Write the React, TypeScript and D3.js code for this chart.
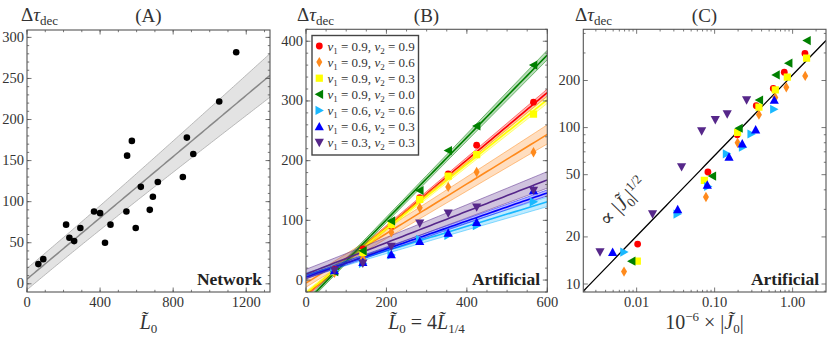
import React from "react";
import * as d3 from "d3";

// (A) network: L0 and decoherence time
const netL0 = [62, 89, 214, 232, 258, 292, 367, 400, 427, 457, 544, 548, 574, 595, 623, 672, 689, 716, 853, 875, 910, 1052, 1145];
const netTau = [24, 30, 72, 56, 52, 68, 88, 86, 50, 72, 88, 156, 174, 68, 118, 90, 106, 124, 130, 178, 158, 222, 282];
const netFit = { a: 5.7, b: 0.1865, sa: 13, sb: 0.0174 };

// (B) artificial: same L0 grid for every series
const artL0 = [70.7, 141.4, 212.1, 282.8, 353.6, 424.3, 565.7];
const tauRed = [18, 52, 90, 138, 178, 226, 298];
const tauOrange = [12, 36, 80, 121, 156, 181, 214];
const tauYellow = [14, 46, 93, 135, 174, 210, 278];
const tauGreen = [14, 49, 99, 150, 217, 258, 360];
const tauLightBlue = [16, 28, 42, 68, 75, 91, 131];
const tauBlue = [16, 30, 43, 65, 79, 97, 150];
const tauPurple = [16, 28, 56, 95, 112, 122, 150];

const fitRed = { a: -25, b: 0.565, sa: 3, sb: 0.0087 };
const fitOrange = { a: -5, b: 0.415, sa: 7, sb: 0.024 };
const fitYellow = { a: -22, b: 0.54, sa: 3, sb: 0.0087 };
const fitGreen = { a: -37, b: 0.69, sa: 4, sb: 0.0115 };
const fitLightBlue = { a: 8, b: 0.205, sa: 4, sb: 0.0115 };
const fitBlue = { a: 5, b: 0.235, sa: 3, sb: 0.0067 };
const fitPurple = { a: 10, b: 0.263, sa: 8, sb: 0.019 };

// (C) 10^-6 |J0| per series
const jRed = [0.0103, 0.082, 0.195, 0.342, 0.565, 0.782, 1.44];
const jOrange = [0.00689, 0.0774, 0.197, 0.37, 0.6, 0.83, 1.45];
const jYellow = [0.0102, 0.0738, 0.197, 0.37, 0.6, 0.855, 1.51];
const jGreen = [0.00863, 0.0934, 0.205, 0.374, 0.611, 0.889, 1.527];
const jLightBlue = [0.00689, 0.0332, 0.082, 0.1425, 0.229, 0.295, 0.576];
const jBlue = [0.00492, 0.0336, 0.0805, 0.153, 0.226, 0.336, 0.582];
const jPurple = [0.00339, 0.016, 0.0377, 0.0682, 0.102, 0.145, 0.257];
const powerFit = { prefactor: 217, exponent: 0.515 };

const v1Labels = ["0.9", "0.9", "0.9", "0.9", "0.6", "0.6", "0.3"];
const v2Labels = ["0.9", "0.6", "0.3", "0.0", "0.6", "0.3", "0.3"];
const colors = ["#ff0000", "#ff8a1c", "#ffff00", "#008000", "#1ab8ff", "#0000ff", "#56278a"];
const shapes = ["circle", "diamond", "square", "left", "right", "up", "down"];

const taus = [tauRed, tauOrange, tauYellow, tauGreen, tauLightBlue, tauBlue, tauPurple];
const fits = [fitRed, fitOrange, fitYellow, fitGreen, fitLightBlue, fitBlue, fitPurple];
const js = [jRed, jOrange, jYellow, jGreen, jLightBlue, jBlue, jPurple];

const FONT = "Liberation Serif, Times New Roman, DejaVu Serif, serif";
const FRAME = "#555";
const TXT = "#333";

function Marker({ shape, x, y, color }: any) {
  if (shape === "circle") return <circle cx={x} cy={y} r={3.4} fill={color} />;
  const paths: any = {
    diamond: "M0,-5.2L3,0L0,5.2L-3,0Z",
    square: "M-3.6,-3.6H3.6V3.6H-3.6Z",
    left: "M-4.6,0L3.8,-4.6L3.8,4.6Z",
    right: "M4.6,0L-3.8,-4.6L-3.8,4.6Z",
    up: "M0,-4.6L4.6,3.8L-4.6,3.8Z",
    down: "M0,4.6L4.6,-3.8L-4.6,-3.8Z",
  };
  return <path d={paths[shape]} transform={`translate(${x},${y})`} fill={color} />;
}

function Frame({ x, y, xMajor, xMinor, xFmt, yMajor, yMinor, yFmt }: any) {
  const [x0, x1] = x.range();
  const [y0, y1] = y.range();
  const out: any[] = [];
  const tk = (v: number, len: number, key: string) => {
    const p = x(v);
    out.push(<line key={key + "b"} x1={p} x2={p} y1={y0} y2={y0 - len} stroke={FRAME} strokeWidth={0.8} />);
    out.push(<line key={key + "t"} x1={p} x2={p} y1={y1} y2={y1 + len} stroke={FRAME} strokeWidth={0.8} />);
  };
  const tky = (v: number, len: number, key: string) => {
    const p = y(v);
    out.push(<line key={key + "l"} x1={x0} x2={x0 + len} y1={p} y2={p} stroke={FRAME} strokeWidth={0.8} />);
    out.push(<line key={key + "r"} x1={x1} x2={x1 - len} y1={p} y2={p} stroke={FRAME} strokeWidth={0.8} />);
  };
  xMinor.forEach((v: number, i: number) => tk(v, 2.2, "xm" + i));
  xMajor.forEach((v: number, i: number) => tk(v, 4.5, "xM" + i));
  yMinor.forEach((v: number, i: number) => tky(v, 2.2, "ym" + i));
  yMajor.forEach((v: number, i: number) => tky(v, 4.5, "yM" + i));
  return (
    <g>
      <rect x={x0} y={y1} width={x1 - x0} height={y0 - y1} fill="none" stroke={FRAME} strokeWidth={1.1} />
      {out}
      {xMajor.map((v: number, i: number) => (
        <text key={"xl" + i} x={x(v)} y={y0 + 15} textAnchor="middle" fontSize={14.5} fontFamily={FONT} fill={TXT}>{xFmt(v)}</text>
      ))}
      {yMajor.map((v: number, i: number) => (
        <text key={"yl" + i} x={x0 - 3} y={y(v) + 4.5} textAnchor="end" fontSize={14.5} fontFamily={FONT} fill={TXT}>{yFmt(v)}</text>
      ))}
    </g>
  );
}

function TauLabel({ x, y }: any) {
  return (
    <text x={x} y={y} fontSize={19} fontFamily={FONT} fill={TXT}>
      <tspan>Δ</tspan><tspan fontStyle="italic">τ</tspan>
      <tspan fontSize={13} dy={4}>dec</tspan>
    </text>
  );
}

function band(fit: any, xs: number[], x: any, y: any) {
  const hw = (v: number) => Math.sqrt(fit.sa * fit.sa + (fit.sb * v) ** 2);
  const area = d3.area<number>().x((v) => x(v)).y0((v) => y(fit.a + fit.b * v - hw(v))).y1((v) => y(fit.a + fit.b * v + hw(v)));
  const up = d3.line<number>().x((v) => x(v)).y((v) => y(fit.a + fit.b * v + hw(v)));
  const lo = d3.line<number>().x((v) => x(v)).y((v) => y(fit.a + fit.b * v - hw(v)));
  const mid = d3.line<number>().x((v) => x(v)).y((v) => y(fit.a + fit.b * v));
  return { area: area(xs)!, up: up(xs)!, lo: lo(xs)!, mid: mid(xs)! };
}

export default function App() {
  // panel A
  const xA = d3.scaleLinear().domain([0, 1330]).range([27, 270]);
  const yA = d3.scaleLinear().domain([-10, 309]).range([292, 30]);
  const xsA = d3.range(0, 1331, 10);
  const bA = band(netFit, xsA, xA, yA);

  // panel B
  const xB = d3.scaleLinear().domain([0, 600]).range([306, 547.3]);
  const yB = d3.scaleLinear().domain([-20, 420]).range([292, 29.3]);
  const xsB = d3.range(0, 601, 10);

  // panel C
  const xC = d3.scaleLog().domain([0.00207, 2.68]).range([583.3, 826]);
  const yC = d3.scaleLog().domain([8.89, 425]).range([292, 29.3]);
  const xsC = d3.range(0, 51).map((i) => 0.00207 * Math.pow(2.68 / 0.00207, i / 50));
  const powLine = d3.line<number>().x((v) => xC(v)).y((v) => yC(powerFit.prefactor * Math.pow(v, powerFit.exponent)))(xsC)!;
  const xCMajor = [0.01, 0.1, 1];
  const yCMajor = [10, 20, 50, 100, 200];
  const xCMinor = xC.ticks().filter((v) => !xCMajor.some((m) => Math.abs(m - v) < 1e-9));
  const yCMinor = yC.ticks().filter((v) => !yCMajor.includes(v));

  const tilde = "\u0303";

  return (
    <svg width={831} height={344} fontFamily={FONT} style={{ position: "absolute", left: 0, top: 0 }}>
      <defs>
        <clipPath id="clipA"><rect x={27} y={30} width={243} height={262} /></clipPath>
        <clipPath id="clipB"><rect x={306} y={29.3} width={241.3} height={262.7} /></clipPath>
        <clipPath id="clipC"><rect x={583.3} y={29.3} width={242.7} height={262.7} /></clipPath>
      </defs>
      <rect width={831} height={344} fill="#fff" />

      {/* (A) */}
      <g clipPath="url(#clipA)">
        <path d={bA.area} fill="#e3e3e3" />
        <path d={bA.up} fill="none" stroke="#aaa" strokeWidth={0.8} />
        <path d={bA.lo} fill="none" stroke="#aaa" strokeWidth={0.8} />
        <path d={bA.mid} fill="none" stroke="#888" strokeWidth={1.5} />
        {netL0.map((v, i) => <circle key={i} cx={xA(v)} cy={yA(netTau[i])} r={3.3} fill="#000" />)}
      </g>
      <Frame x={xA} y={yA} xMajor={[0, 400, 800, 1200]} xMinor={d3.range(0, 1331, 100)} xFmt={(v: number) => v}
        yMajor={d3.range(0, 301, 50)} yMinor={d3.range(0, 301, 10)} yFmt={(v: number) => v} />
      <text x={262} y={285} textAnchor="end" fontSize={17.5} fontWeight="bold" fontFamily={FONT} fill="#222">Network</text>
      <TauLabel x={21} y={21} />
      <text x={148.5} y={22} textAnchor="middle" fontSize={19} fontFamily={FONT} fill={TXT}>(A)</text>
      <text x={148.5} y={329} textAnchor="middle" fontSize={20} fontFamily={FONT} fill={TXT}>
        <tspan fontStyle="italic">{"L" + tilde}</tspan><tspan fontSize={13} dy={4}>0</tspan>
      </text>

      {/* (B) */}
      <g clipPath="url(#clipB)">
        {fits.map((f, k) => {
          const b = band(f, xsB, xB, yB);
          return (
            <g key={k}>
              <path d={b.area} fill={colors[k]} fillOpacity={0.28} />
              <path d={b.up} fill="none" stroke={colors[k]} strokeOpacity={0.55} strokeWidth={0.9} />
              <path d={b.lo} fill="none" stroke={colors[k]} strokeOpacity={0.55} strokeWidth={0.9} />
              <path d={b.mid} fill="none" stroke={colors[k]} strokeWidth={1.6} />
            </g>
          );
        })}
        {taus.map((t, k) => t.map((v, i) => <Marker key={k + "-" + i} shape={shapes[k]} x={xB(artL0[i])} y={yB(v)} color={colors[k]} />))}
      </g>
      <Frame x={xB} y={yB} xMajor={[0, 200, 400, 600]} xMinor={d3.range(0, 601, 50)} xFmt={(v: number) => v}
        yMajor={[0, 100, 200, 300, 400]} yMinor={d3.range(-20, 421, 20)} yFmt={(v: number) => v} />
      <g>
        <rect x={312} y={35.5} width={106.5} height={119.5} fill="#fff" stroke="#444" strokeWidth={1.4} />
        {v1Labels.map((v1, k) => {
          const cy = 46 + k * 16.1;
          return (
            <g key={k}>
              <Marker shape={shapes[k]} x={319.3} y={cy} color={colors[k]} />
              <text x={327.5} y={cy + 4.5} fontSize={13} fontFamily={FONT} fill={TXT}>
                <tspan fontStyle="italic">v</tspan><tspan fontSize={9} dy={3}>1</tspan>
                <tspan dy={-3}>{` = ${v1}, `}</tspan>
                <tspan fontStyle="italic">v</tspan><tspan fontSize={9} dy={3}>2</tspan>
                <tspan dy={-3}>{` = ${v2Labels[k]}`}</tspan>
              </text>
            </g>
          );
        })}
      </g>
      <text x={540} y={285} textAnchor="end" fontSize={17.5} fontWeight="bold" fontFamily={FONT} fill="#222">Artificial</text>
      <TauLabel x={297} y={21} />
      <text x={426.5} y={22} textAnchor="middle" fontSize={19} fontFamily={FONT} fill={TXT}>(B)</text>
      <text x={426.5} y={329} textAnchor="middle" fontSize={20} fontFamily={FONT} fill={TXT}>
        <tspan fontStyle="italic">{"L" + tilde}</tspan><tspan fontSize={13} dy={4}>0</tspan>
        <tspan dy={-4}>{" = 4"}</tspan>
        <tspan fontStyle="italic">{"L" + tilde}</tspan><tspan fontSize={13} dy={4}>1/4</tspan>
      </text>

      {/* (C) */}
      <g clipPath="url(#clipC)">
        <path d={powLine} fill="none" stroke="#000" strokeWidth={1.3} />
        {js.map((jj, k) => jj.map((v, i) => <Marker key={k + "-" + i} shape={shapes[k]} x={xC(v)} y={yC(taus[k][i])} color={colors[k]} />))}
      </g>
      <Frame x={xC} y={yC} xMajor={xCMajor} xMinor={xCMinor} xFmt={(v: number) => v.toFixed(2)}
        yMajor={yCMajor} yMinor={yCMinor} yFmt={(v: number) => v} />
      <text x={624} y={208} textAnchor="middle" fontSize={20} fontFamily={FONT} fill={TXT} transform="rotate(-46 624 203)">
        <tspan>∝ |</tspan><tspan fontStyle="italic">{"J" + tilde}</tspan><tspan fontSize={13} dy={4}>0</tspan>
        <tspan dy={-4}>|</tspan><tspan fontSize={13} dy={-8}>1/2</tspan>
      </text>
      <text x={819} y={285} textAnchor="end" fontSize={17.5} fontWeight="bold" fontFamily={FONT} fill="#222">Artificial</text>
      <TauLabel x={575} y={21} />
      <text x={704.5} y={22} textAnchor="middle" fontSize={19} fontFamily={FONT} fill={TXT}>(C)</text>
      <text x={704.5} y={329} textAnchor="middle" fontSize={20} fontFamily={FONT} fill={TXT}>
        <tspan>10</tspan><tspan fontSize={13} dy={-8}>−6</tspan>
        <tspan dy={8}>{" × |"}</tspan><tspan fontStyle="italic">{"J" + tilde}</tspan><tspan fontSize={13} dy={4}>0</tspan>
        <tspan dy={-4}>|</tspan>
      </text>
    </svg>
  );
}
